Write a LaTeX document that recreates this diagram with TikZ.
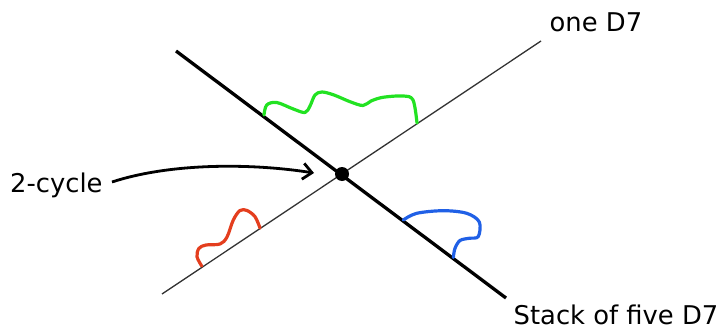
\documentclass[tikz,border=0pt]{standalone}
\usepackage{fontspec}
\setmainfont{DejaVu Sans}
\usetikzlibrary{arrows.meta}
\definecolor{cgreen}{RGB}{34,226,34}
\definecolor{cred}{RGB}{228,62,30}
\definecolor{cblue}{RGB}{32,96,230}
\tikzset{
  lbl/.style={anchor=base west,inner sep=0pt,font=\fontsize{25.8}{30}\selectfont},
  thinline/.style={line width=1.3pt,draw=black!80},
  thickline/.style={line width=3.3pt,draw=black},
  loop/.style={line width=3.2pt,line cap=round,line join=round},
}
\begin{document}
\begin{tikzpicture}[x=1pt,y=-1pt]
\useasboundingbox (0,0) rectangle (722,329);
% lines
\coordinate (t1) at (162,294);
\coordinate (t2) at (541,41);
\coordinate (k1) at (176,51);
\coordinate (k2) at (506,298);
\draw[thinline] (t1) -- (t2);
\draw[thickline] (k1) -- (k2);
\node[circle,fill=black,inner sep=0pt,minimum size=14pt] (dot) at (342,174) {};
% labels
\node[lbl] (one) at (549.5,32) {one D7};
\node[lbl] (stack) at (513.5,324) {Stack of five D7};
\node[lbl] (cyc) at (10,192) {2-cycle};
\coordinate (tail) at (112,182);
\coordinate (tip) at (314,173);
\draw[line width=2.8pt,-{Straight Barb[length=9pt,width=16pt,line width=2.8pt]}]
  (tail) .. controls (170,163) and (250,163) .. (tip);
% green
\draw[loop,cgreen] plot[smooth,tension=0.55] coordinates {
 (264,115) (266.7,105) (276.7,102.5) (293.3,109) (305,112.5) (310,106) (315,95)
 (322,92) (334,95) (350,101.7) (363,105.5) (371,101) (383,97.3) (403,96) (413,100) (417,123)};
% red
\draw[loop,cred] plot[smooth,tension=0.55] coordinates {
 (201.7,266) (197,256.7) (199,248.3) (206,245) (220,244) (227,237) (233.3,220)
 (240,210.5) (247,210.5) (255,216.7) (260,228)};
% blue
\draw[loop,cblue] plot[smooth,tension=0.55] coordinates {
 (403.3,220) (416.7,213.3) (443.3,210.7) (466.7,213.3) (479.3,222) (478.3,236.5)
 (469,238.3) (460,240.5) (455,248.3) (453.3,257.5)};
\end{tikzpicture}
\end{document}
